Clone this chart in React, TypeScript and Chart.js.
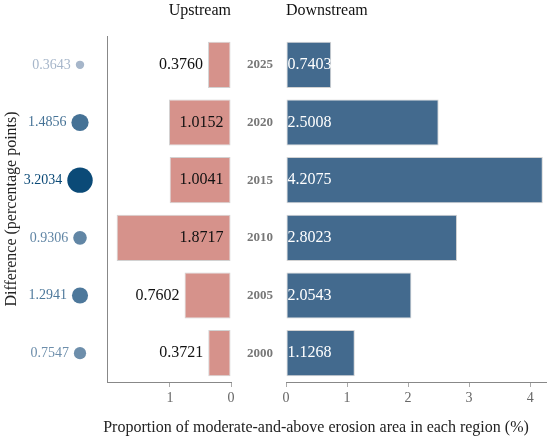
import { useEffect, useRef } from "react";
import { Chart, registerables } from "chart.js";

Chart.register(...registerables);

// values
const years = ["2025", "2020", "2015", "2010", "2005", "2000"];
const upstream = [0.376, 1.0152, 1.0041, 1.8717, 0.7602, 0.3721];
const downstream = [0.7403, 2.5008, 4.2075, 2.8023, 2.0543, 1.1268];
const difference = [0.3643, 1.4856, 3.2034, 0.9306, 1.2941, 0.7547];
const upstreamTicks = [0, 1];
const downstreamTicks = [0, 1, 2, 3, 4];

const SERIF = "'Liberation Serif', 'Times New Roman', serif";
const W = 550;
const H = 441;
const TOP = 36;
const BOTTOM = 382;

const dMin = Math.min(...difference);
const dMax = Math.max(...difference);
const frac = (v: number) => (v - dMin) / (dMax - dMin);

// bubble area grows linearly with the difference
function bubbleRadius(v: number) {
  const r0 = 4.2;
  const r1 = 12.7;
  return Math.sqrt(r0 * r0 + frac(v) * (r1 * r1 - r0 * r0));
}

const light = [166, 182, 202];
const dark = [11, 74, 119];
function bubbleColor(v: number) {
  const t = Math.sqrt(frac(v));
  const c = light.map((l, i) => Math.round(l + (dark[i] - l) * t));
  return `rgb(${c.join(",")})`;
}

const tickScale = (values: number[]) => ({
  afterBuildTicks: (scale: any) => {
    scale.ticks = values.map((value) => ({ value }));
  },
});

const bubbleLabels = {
  id: "bubbleLabels",
  afterDatasetsDraw(chart: Chart) {
    const ctx = chart.ctx;
    ctx.save();
    ctx.font = `14px ${SERIF}`;
    ctx.textAlign = "right";
    ctx.textBaseline = "middle";
    chart.getDatasetMeta(0).data.forEach((el: any, i) => {
      const v = difference[i];
      ctx.fillStyle = bubbleColor(v);
      ctx.fillText(v.toFixed(4), el.x - bubbleRadius(v) - 5, el.y);
    });
    ctx.restore();
  },
};

const upstreamLabels = {
  id: "upstreamLabels",
  afterDatasetsDraw(chart: Chart) {
    const ctx = chart.ctx;
    ctx.save();
    ctx.font = `16px ${SERIF}`;
    ctx.textAlign = "right";
    ctx.textBaseline = "middle";
    ctx.fillStyle = "#111";
    chart.getDatasetMeta(0).data.forEach((el: any, i) => {
      const text = upstream[i].toFixed(4);
      const tw = ctx.measureText(text).width;
      const width = el.base - el.x;
      if (width > tw + 12) ctx.fillText(text, el.base - 7, el.y);
      else ctx.fillText(text, el.x - 5, el.y);
    });
    ctx.restore();
  },
};

const downstreamLabels = {
  id: "downstreamLabels",
  afterDatasetsDraw(chart: Chart) {
    const ctx = chart.ctx;
    ctx.save();
    ctx.font = `16px ${SERIF}`;
    ctx.textAlign = "left";
    ctx.textBaseline = "middle";
    ctx.fillStyle = "#fff";
    chart.getDatasetMeta(0).data.forEach((el: any, i) => {
      ctx.fillText(downstream[i].toFixed(4), el.base + 1, el.y);
    });
    ctx.restore();
  },
};

const xAxisStyle = {
  grid: { display: true, drawOnChartArea: false, drawTicks: true, tickLength: 5, color: "#aaa" },
  border: { display: true, color: "#888", width: 1 },
  ticks: { font: { size: 14, family: SERIF }, color: "#666", padding: 3 },
  afterFit: (s: any) => {
    s.height = H - BOTTOM;
  },
};

export default function App() {
  const bubbleRef = useRef<HTMLCanvasElement>(null);
  const upRef = useRef<HTMLCanvasElement>(null);
  const downRef = useRef<HTMLCanvasElement>(null);

  useEffect(() => {
    if (!bubbleRef.current || !upRef.current || !downRef.current) return;
    Chart.defaults.font.family = SERIF;

    const common = {
      responsive: false,
      animation: false as const,
      events: [],
      plugins: { legend: { display: false }, tooltip: { enabled: false } },
    };

    const bubble = new Chart(bubbleRef.current, {
      type: "scatter",
      data: {
        labels: years,
        datasets: [
          {
            data: years.map((y) => ({ x: 0.5, y })) as any,
            pointRadius: (c: any) => bubbleRadius(difference[c.dataIndex]),
            pointBackgroundColor: (c: any) => bubbleColor(difference[c.dataIndex]),
            pointBorderWidth: 0,
            clip: false as any,
          },
        ],
      },
      options: {
        ...common,
        layout: { padding: { left: 0, right: W - 108, top: TOP, bottom: H - BOTTOM } },
        scales: {
          x: { type: "linear", display: false, min: 0, max: 1 },
          y: {
            type: "category",
            offset: true,
            ticks: { display: false },
            grid: { display: false, drawTicks: false },
            border: { display: false },
            title: {
              display: true,
              text: "Difference (percentage points)",
              font: { size: 16, family: SERIF },
              color: "#222",
              padding: { top: 2, bottom: 2 },
            },
            afterFit: (s: any) => {
              s.width = 52;
            },
          },
        },
      },
      plugins: [bubbleLabels],
    });

    const up = new Chart(upRef.current, {
      type: "bar",
      data: {
        labels: years,
        datasets: [
          {
            data: upstream,
            backgroundColor: "#d6928b",
            borderColor: "rgba(205,205,205,0.9)",
            borderWidth: 1,
            borderSkipped: false,
            barPercentage: 0.8,
            categoryPercentage: 1,
          },
        ],
      },
      options: {
        ...common,
        indexAxis: "y",
        layout: { padding: { left: 107, right: W - 231, top: 0, bottom: 0 } },
        plugins: {
          ...common.plugins,
          title: {
            display: true,
            text: "Upstream",
            align: "end",
            fullSize: false,
            color: "#111",
            font: { size: 16, weight: "normal", family: SERIF },
            padding: { top: 1, bottom: TOP - 1 - 19.2 },
          },
        },
        scales: {
          x: {
            type: "linear",
            reverse: true,
            min: 0,
            max: 2.03,
            ...xAxisStyle,
            ...tickScale(upstreamTicks),
          },
          y: {
            ticks: { display: false },
            grid: { display: false, drawTicks: false },
            border: { display: true, color: "#888", width: 1 },
            afterFit: (s: any) => {
              s.width = 0;
            },
          },
        },
      },
      plugins: [upstreamLabels],
    });

    const down = new Chart(downRef.current, {
      type: "bar",
      data: {
        labels: years,
        datasets: [
          {
            data: downstream,
            backgroundColor: "#436a8e",
            borderColor: "rgba(205,205,205,0.9)",
            borderWidth: 1,
            borderSkipped: false,
            barPercentage: 0.8,
            categoryPercentage: 1,
          },
        ],
      },
      options: {
        ...common,
        indexAxis: "y",
        layout: { padding: { left: 236, right: W - 546, top: 0, bottom: 0 } },
        plugins: {
          ...common.plugins,
          title: {
            display: true,
            text: "Downstream",
            align: "start",
            fullSize: false,
            color: "#111",
            font: { size: 16, weight: "normal", family: SERIF },
            padding: { top: 1, bottom: TOP - 1 - 19.2 },
          },
        },
        scales: {
          x: {
            type: "linear",
            min: 0,
            max: 4.26,
            ...xAxisStyle,
            ...tickScale(downstreamTicks),
          },
          y: {
            ticks: { font: { size: 13, weight: "bold", family: SERIF }, color: "#777", padding: 13 },
            grid: { display: false, drawTicks: false },
            border: { display: false },
            afterFit: (s: any) => {
              s.width = 50;
            },
          },
        },
      },
      plugins: [downstreamLabels],
    });

    return () => {
      bubble.destroy();
      up.destroy();
      down.destroy();
    };
  }, []);

  const layer = { position: "absolute" as const, left: 0, top: 0 };

  return (
    <div style={{ position: "absolute", left: 0, top: 0, width: W, height: H, background: "#fff", fontFamily: SERIF }}>
      <canvas ref={bubbleRef} width={W} height={H} style={layer} />
      <canvas ref={upRef} width={W} height={H} style={layer} />
      <canvas ref={downRef} width={W} height={H} style={layer} />
      <div
        style={{
          position: "absolute",
          left: 316,
          top: 417,
          transform: "translateX(-50%)",
          whiteSpace: "nowrap",
          fontSize: 16,
          lineHeight: "20px",
          color: "#222",
        }}
      >
        Proportion of moderate-and-above erosion area in each region (%)
      </div>
    </div>
  );
}
